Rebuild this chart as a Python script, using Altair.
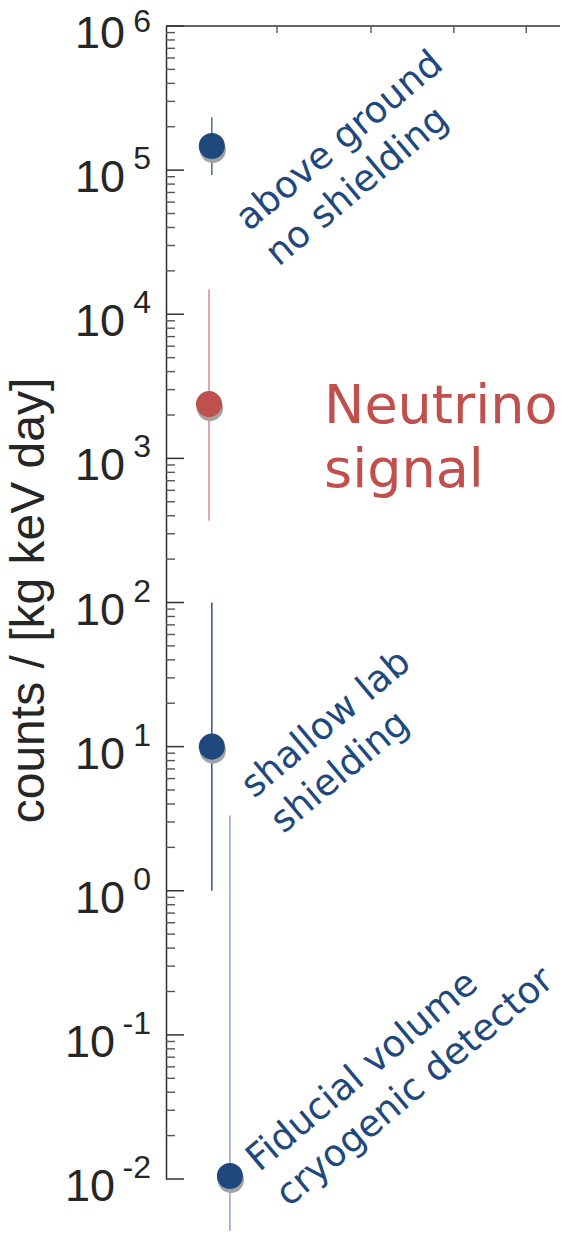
import altair as alt
import pandas as pd

# ---- data ----
categories = ["above ground", "neutrino signal", "shallow lab", "fiducial volume"]
x_pos = [11.4, 10.7, 11.4, 15.9]
rate = [1.47e5, 2.38e3, 10.0, 0.0105]
rate_lo = [9.25e4, 369.0, 1.0, 0.001]
rate_hi = [2.33e5, 1.49e4, 100.0, 3.33]

exponents = [-2, -1, 0, 1, 2, 3, 4, 5, 6]
top_ticks = [27.6, 51.0, 71.6, 89.6]

label_text = ["above ground\nno shielding", "shallow lab\nshielding", "Fiducial volume\ncryogenic detector"]
label_x = [20.6, 21.9, 23.2]
label_y = [3.72e4, 4.33, 0.0111]

signal_text = ["Neutrino\nsignal"]
signal_x = [39.3]
signal_y = [1758.0]

# ---- styles ----
point_colors = ["#1f497d", "#c0504d", "#1f497d", "#1f497d"]
bar_colors = ["#4a6e9e", "#d98a8a", "#2e5488", "#8ea4c6"]
bar_widths = [1.5, 1.5, 1.5, 2.2]

df = pd.DataFrame({"category": categories, "x": x_pos, "rate": rate,
                   "lo": rate_lo, "hi": rate_hi})
major_df = pd.DataFrame({"v": [10.0 ** e for e in exponents],
                         "e": exponents,
                         "exp": [str(e) for e in exponents],
                         "base": ["10"] * len(exponents)})
minor_df = pd.DataFrame({"v": [m * 10.0 ** k for k in range(-2, 6) for m in range(2, 10)]})
top_df = pd.DataFrame({"x": top_ticks})
lab_df = pd.DataFrame({"t": label_text, "x": label_x, "y": label_y})
sig_df = pd.DataFrame({"t": signal_text, "x": signal_x, "y": signal_y})

W, H = 394, 1153
ys = alt.Scale(type="log", domain=[0.01, 1e6], nice=False)
xs = alt.Scale(domain=[0, 98], nice=False, zero=False)
cat_stroke = alt.Scale(domain=categories, range=bar_colors)
cat_fill = alt.Scale(domain=categories, range=point_colors)
cat_w = alt.Scale(domain=categories, range=bar_widths)

yaxis = alt.Axis(title="counts / [kg keV day]", labels=False, ticks=False, grid=False,
                 domain=True, domainColor="#2b2b2b", domainWidth=1.5,
                 titleFont="Liberation Sans", titleFontSize=48, titleFontWeight="normal",
                 titleColor="#262626", titleAngle=270, titleX=-123, titleY=574,
                 titleAlign="center", titleBaseline="alphabetic")

bars = alt.Chart(df).mark_rule().encode(
    x=alt.X("x:Q", scale=xs, axis=None),
    y=alt.Y("lo:Q", scale=ys, axis=yaxis),
    y2="hi:Q",
    stroke=alt.Color("category:N", scale=cat_stroke, legend=None),
    strokeWidth=alt.StrokeWidth("category:N", scale=cat_w, legend=None),
)

shadow = alt.Chart(df).mark_circle(size=680, opacity=1, color="#a3a3a3", xOffset=1, yOffset=4).encode(
    x=alt.X("x:Q", scale=xs), y=alt.Y("rate:Q", scale=ys))

points = alt.Chart(df).mark_circle(size=680, opacity=1).encode(
    x=alt.X("x:Q", scale=xs), y=alt.Y("rate:Q", scale=ys),
    color=alt.Color("category:N", scale=cat_fill, legend=None))

major = alt.Chart(major_df).mark_rule(color="#333333", strokeWidth=1.5).encode(
    x=alt.value(0), x2=alt.value(18), y=alt.Y("v:Q", scale=ys))
minor = alt.Chart(minor_df).mark_rule(color="#555555", strokeWidth=1.4).encode(
    x=alt.value(0), x2=alt.value(9), y=alt.Y("v:Q", scale=ys))

top_line = alt.Chart(pd.DataFrame({"a": [0]})).mark_rule(color="#333333", strokeWidth=1.5).encode(
    x=alt.value(0), x2=alt.value(W), y=alt.value(0))
top_tk = alt.Chart(top_df).mark_rule(color="#555555", strokeWidth=1.4).encode(
    x=alt.X("x:Q", scale=xs), y=alt.value(0), y2=alt.value(7))

base_pos = alt.Chart(major_df).transform_filter("datum.e >= 0").mark_text(
    font="Liberation Sans", fontSize=45, color="#262626", align="right",
    baseline="alphabetic", dy=22).encode(
    x=alt.value(-41), y=alt.Y("v:Q", scale=ys), text="base:N")
base_neg = alt.Chart(major_df).transform_filter("datum.e < 0").mark_text(
    font="Liberation Sans", fontSize=45, color="#262626", align="right",
    baseline="alphabetic", dy=22).encode(
    x=alt.value(-51), y=alt.Y("v:Q", scale=ys), text="base:N")
expo = alt.Chart(major_df).transform_filter("datum.e < 6").mark_text(
    font="Liberation Sans", fontSize=32, color="#262626", align="right",
    baseline="alphabetic", dy=-1).encode(
    x=alt.value(-15), y=alt.Y("v:Q", scale=ys), text="exp:N")
expo_top = alt.Chart(major_df).transform_filter("datum.e == 6").mark_text(
    font="Liberation Sans", fontSize=32, color="#262626", align="right",
    baseline="alphabetic", dy=6).encode(
    x=alt.value(-15), y=alt.Y("v:Q", scale=ys), text="exp:N")

labels = alt.Chart(lab_df).mark_text(
    font="DejaVu Sans", fontSize=37, color="#1f497d", align="left",
    baseline="alphabetic", angle=320, lineBreak="\n", lineHeight=46).encode(
    x=alt.X("x:Q", scale=xs), y=alt.Y("y:Q", scale=ys), text="t:N")

signal = alt.Chart(sig_df).mark_text(
    font="DejaVu Sans", fontSize=54, color="#c0504d", align="left",
    baseline="alphabetic", lineBreak="\n", lineHeight=64).encode(
    x=alt.X("x:Q", scale=xs), y=alt.Y("y:Q", scale=ys), text="t:N")

chart = alt.layer(bars, minor, major, top_line, top_tk, shadow, points,
                  base_pos, base_neg, expo, expo_top, labels, signal).properties(
    width=W, height=H,
    autosize=alt.AutoSizeParams(type="none"),
    padding={"left": 158, "top": 18, "right": 0, "bottom": 52},
).configure_view(stroke=None)

chart.save("out.html", embed_options={"renderer": "svg", "actions": False})
